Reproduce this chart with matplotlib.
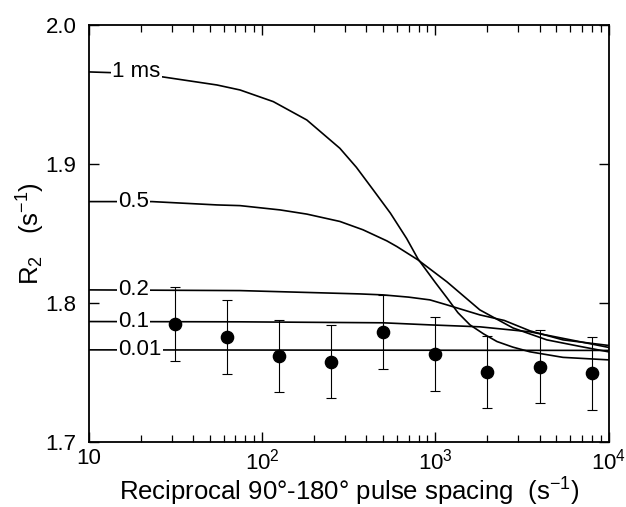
import matplotlib
matplotlib.use("Agg")
import matplotlib.pyplot as plt
from matplotlib.ticker import FixedLocator, FixedFormatter, LogLocator, NullFormatter

plt.rcParams['font.family'] = ['Liberation Sans', 'DejaVu Sans']
plt.rcParams['mathtext.fontset'] = 'custom'
plt.rcParams['mathtext.rm'] = 'Liberation Sans'
plt.rcParams['mathtext.it'] = 'Liberation Sans:italic'
plt.rcParams['mathtext.bf'] = 'Liberation Sans:bold'

# ---- data ----
x_1ms = [10, 15, 26.7, 54.8, 74.5, 116, 181, 281, 350, 438, 550, 683, 794, 1000, 1167, 1350, 1585, 1900,
         2270, 2800, 3520, 5460, 10000]
y_1ms = [1.9662, 1.9655, 1.9626, 1.9568, 1.9532, 1.9448, 1.9316, 1.9112, 1.8975, 1.8812, 1.8645, 1.8462,
         1.8315, 1.8145, 1.8035, 1.7928, 1.784, 1.7775, 1.772, 1.768, 1.7646, 1.7606, 1.7588]

x_05 = [10, 23.1, 54.8, 74.5, 127, 181, 281, 382, 525, 600, 794, 1167, 1807, 2805, 4405, 6840, 10000]
y_05 = [1.8728, 1.8728, 1.8704, 1.8699, 1.8668, 1.8638, 1.8585, 1.8525, 1.8445, 1.8404, 1.8308, 1.815,
        1.7948, 1.7818, 1.7732, 1.7685, 1.7646]

x_02 = [10, 74.5, 367, 498, 700, 931, 1167, 1807, 2500, 3520, 5460, 10000]
y_02 = [1.8092, 1.8087, 1.8063, 1.8056, 1.804, 1.802, 1.7984, 1.7912, 1.7872, 1.7797, 1.7732, 1.7692]

x_01 = [10, 74.5, 498, 931, 1807, 3520, 5460, 10000]
y_01 = [1.7864, 1.7862, 1.7855, 1.784, 1.7826, 1.779, 1.7743, 1.7678]

x_001 = [10, 10000]
y_001 = [1.766, 1.7656]

curve_labels = ['1 ms', '0.5', '0.2', '0.1', '0.01']

x_pts = [31.25, 62.5, 125, 250, 500, 1000, 2000, 4000, 8000]
y_pts = [1.7847, 1.7751, 1.7619, 1.7576, 1.7787, 1.763, 1.750, 1.754, 1.749]
y_err = [0.0268, 0.0268, 0.0259, 0.0261, 0.0265, 0.0268, 0.026, 0.026, 0.026]

x_ticks = [10, 100, 1000, 10000]
x_ticklabels = ['10', r'$\mathregular{10^2}$', r'$\mathregular{10^3}$', r'$\mathregular{10^4}$']
y_ticks = [1.7, 1.8, 1.9, 2.0]
y_ticklabels = ['1.7', '1.8', '1.9', '2.0']

# ---- figure ----
fig = plt.figure(figsize=(6.26, 5.07), dpi=100)
ax = fig.add_axes([89 / 626, 1 - 441.5 / 507, (608.5 - 89) / 626, (441.5 - 25) / 507])

curves = [(x_1ms, y_1ms), (x_05, y_05), (x_02, y_02), (x_01, y_01), (x_001, y_001)]
label_x = [13.6, 14.7, 14.7, 14.7, 14.7]
for (xs, ys), lab, lx in zip(curves, curve_labels, label_x):
    ax.plot(xs, ys, color='black', lw=1.2, zorder=2)
    ax.text(lx, ys[0], lab, ha='left', va='center', fontsize=16, zorder=4,
            bbox=dict(facecolor='white', edgecolor='none', pad=1.0))

ax.errorbar(x_pts, y_pts, yerr=y_err, fmt='o', color='black', ms=8.8, elinewidth=0.8,
            capsize=3.8, capthick=0.8, zorder=5)

ax.set_xscale('log')
ax.set_xlim(10, 10000)
ax.set_ylim(1.7, 2.0)

ax.xaxis.set_major_locator(FixedLocator(x_ticks))
ax.xaxis.set_major_formatter(FixedFormatter(x_ticklabels))
ax.xaxis.set_minor_locator(LogLocator(base=10, subs=range(2, 10), numticks=20))
ax.xaxis.set_minor_formatter(NullFormatter())
ax.yaxis.set_major_locator(FixedLocator(y_ticks))
ax.yaxis.set_major_formatter(FixedFormatter(y_ticklabels))

ax.tick_params(axis='both', which='major', direction='in', length=7, width=1.0,
               top=True, right=True, labelsize=16)
ax.tick_params(axis='x', which='major', pad=5)
ax.tick_params(axis='y', which='major', pad=9)
ax.tick_params(axis='x', which='minor', direction='in', length=5, width=0.9, top=True)
for s in ax.spines.values():
    s.set_linewidth(1.3)

ax.set_xlabel(r'Reciprocal 90°-180° pulse spacing  (s$^{\mathregular{-1}}$)', fontsize=18.5, labelpad=1)
ax.set_ylabel(r'R$_{\mathregular{2}}$   (s$^{\mathregular{-1}}$)', fontsize=18.5, labelpad=-1)

fig.savefig('out.png', dpi=100)
